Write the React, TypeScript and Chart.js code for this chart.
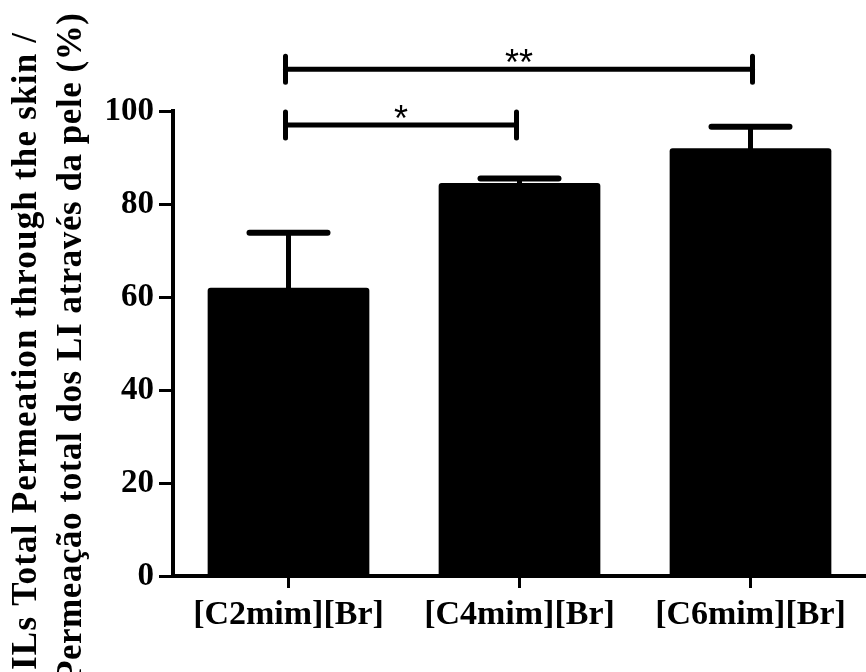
import React, { useEffect, useRef } from "react";
import { Chart, registerables } from "chart.js";

Chart.register(...registerables);

const categories = ["[C2mim][Br]", "[C4mim][Br]", "[C6mim][Br]"];
const meanValues = [62, 84.5, 92];
const errorValues = [11.8, 1.0, 4.6];
const yTickValues = [0, 20, 40, 60, 80, 100];
const yTitleLines = ["ILs Total Permeation through the skin /", "Permeação total dos LI através da pele (%)"];
const sigFrom = [0, 0];
const sigTo = [1, 2];
const sigLevels = [97, 109];
const sigLabels = ["*", "**"];

const SERIF = "'Liberation Serif', 'Times New Roman', serif";

const errorBarPlugin = {
  id: "errorBars",
  afterDatasetsDraw(chart: any) {
    const ctx = chart.ctx;
    const meta = chart.getDatasetMeta(0);
    const y = chart.scales.y;
    ctx.save();
    ctx.strokeStyle = "#000";
    meta.data.forEach((bar: any, i: number) => {
      const x = bar.x;
      const yBase = y.getPixelForValue(meanValues[i]);
      const yTop = y.getPixelForValue(meanValues[i] + errorValues[i]);
      ctx.lineWidth = 5;
      ctx.lineCap = "butt";
      ctx.beginPath();
      ctx.moveTo(x, yBase + 2);
      ctx.lineTo(x, yTop);
      ctx.stroke();
      ctx.lineCap = "round";
      ctx.lineWidth = 6;
      ctx.beginPath();
      ctx.moveTo(x - 39, yTop);
      ctx.lineTo(x + 39, yTop);
      ctx.stroke();
    });
    ctx.restore();
  },
};

const sigPlugin = {
  id: "sigBrackets",
  afterDraw(chart: any) {
    const ctx = chart.ctx;
    const xs = chart.scales.x;
    const ys = chart.scales.y;
    ctx.save();
    ctx.strokeStyle = "#000";
    ctx.fillStyle = "#000";
    ctx.lineCap = "round";
    ctx.lineWidth = 5;
    sigLevels.forEach((lvl, i) => {
      const x1 = xs.getPixelForValue(sigFrom[i]) - 3;
      const x2 = xs.getPixelForValue(sigTo[i]) - (sigTo[i] === 1 ? 3 : -2);
      const yy = ys.getPixelForValue(lvl);
      ctx.beginPath();
      ctx.moveTo(x1, yy);
      ctx.lineTo(x2, yy);
      ctx.stroke();
      ctx.beginPath();
      ctx.moveTo(x1, yy - 13);
      ctx.lineTo(x1, yy + 13);
      ctx.moveTo(x2, yy - 13);
      ctx.lineTo(x2, yy + 13);
      ctx.stroke();
      ctx.font = "36px 'Liberation Sans', Arial, sans-serif";
      ctx.textAlign = "center";
      ctx.textBaseline = "alphabetic";
      ctx.fillText(sigLabels[i], (x1 + x2) / 2, yy + 6);
    });
    ctx.restore();
  },
};

const titlePlugin = {
  id: "yTitle",
  afterDraw(chart: any) {
    const ctx = chart.ctx;
    ctx.save();
    ctx.fillStyle = "#000";
    ctx.font = `bold 35px ${SERIF}`;
    ctx.textBaseline = "alphabetic";
    ctx.textAlign = "left";
    // line 1: spans from y=670 up to y=33
    const l1 = yTitleLines[0];
    const w1 = ctx.measureText(l1).width;
    const ls1 = Math.max(0, (637 - w1) / Math.max(1, l1.length - 1));
    (ctx as any).letterSpacing = `${ls1}px`;
    ctx.save();
    ctx.translate(36, 670);
    ctx.rotate(-Math.PI / 2);
    ctx.fillText(l1, 0, 0);
    ctx.restore();
    // line 2: spans from y≈682 up to y=13
    const l2 = yTitleLines[1];
    (ctx as any).letterSpacing = "0px";
    const w2 = ctx.measureText(l2).width;
    const ls2 = Math.max(0, (669 - w2) / Math.max(1, l2.length - 1));
    (ctx as any).letterSpacing = `${ls2}px`;
    ctx.save();
    ctx.translate(81, 682);
    ctx.rotate(-Math.PI / 2);
    ctx.fillText(l2, 0, 0);
    ctx.restore();
    (ctx as any).letterSpacing = "0px";
    ctx.restore();
  },
};

export default function App() {
  const ref = useRef<HTMLCanvasElement | null>(null);
  useEffect(() => {
    if (!ref.current) return;
    const chart = new Chart(ref.current, {
      type: "bar",
      data: {
        labels: categories,
        datasets: [
          {
            data: meanValues,
            backgroundColor: "#000",
            borderWidth: 0,
            borderRadius: 3,
            borderSkipped: "bottom",
            barPercentage: 0.7,
            categoryPercentage: 1,
          },
        ],
      },
      options: {
        responsive: false,
        animation: false,
        devicePixelRatio: 1,
        layout: { padding: { top: 111, right: 0, left: 0, bottom: 0 } },
        plugins: { legend: { display: false }, tooltip: { enabled: false } },
        scales: {
          x: {
            offset: true,
            grid: {
              display: true,
              drawOnChartArea: false,
              drawTicks: true,
              offset: false,
              tickLength: 12,
              tickWidth: 3,
              tickColor: "#000",
              color: "#000",
            },
            border: { display: true, color: "#000", width: 4 },
            ticks: {
              color: "#000",
              padding: 7,
              maxRotation: 0,
              font: { family: SERIF, size: 34, weight: "bold" },
            },
            afterFit: (s: any) => {
              s.height = 96;
            },
          },
          y: {
            min: 0,
            max: 100,
            afterBuildTicks: (s: any) => {
              s.ticks = yTickValues.map((v) => ({ value: v }));
            },
            grid: {
              display: true,
              drawOnChartArea: false,
              drawTicks: true,
              tickLength: 14,
              tickWidth: 3,
              tickColor: "#000",
              color: "#000",
            },
            border: { display: true, color: "#000", width: 4 },
            ticks: {
              color: "#000",
              padding: 5,
              font: { family: SERIF, size: 33, weight: "bold" },
            },
            title: { display: false },
            afterFit: (s: any) => {
              s.width = 173;
            },
          },
        },
      },
      plugins: [errorBarPlugin, sigPlugin, titlePlugin],
    });
    return () => chart.destroy();
  }, []);
  return (
    <div style={{ position: "fixed", left: 0, top: 0, width: 866, height: 672, background: "#fff" }}>
      <canvas ref={ref} width={866} height={672} style={{ display: "block" }} />
    </div>
  );
}
